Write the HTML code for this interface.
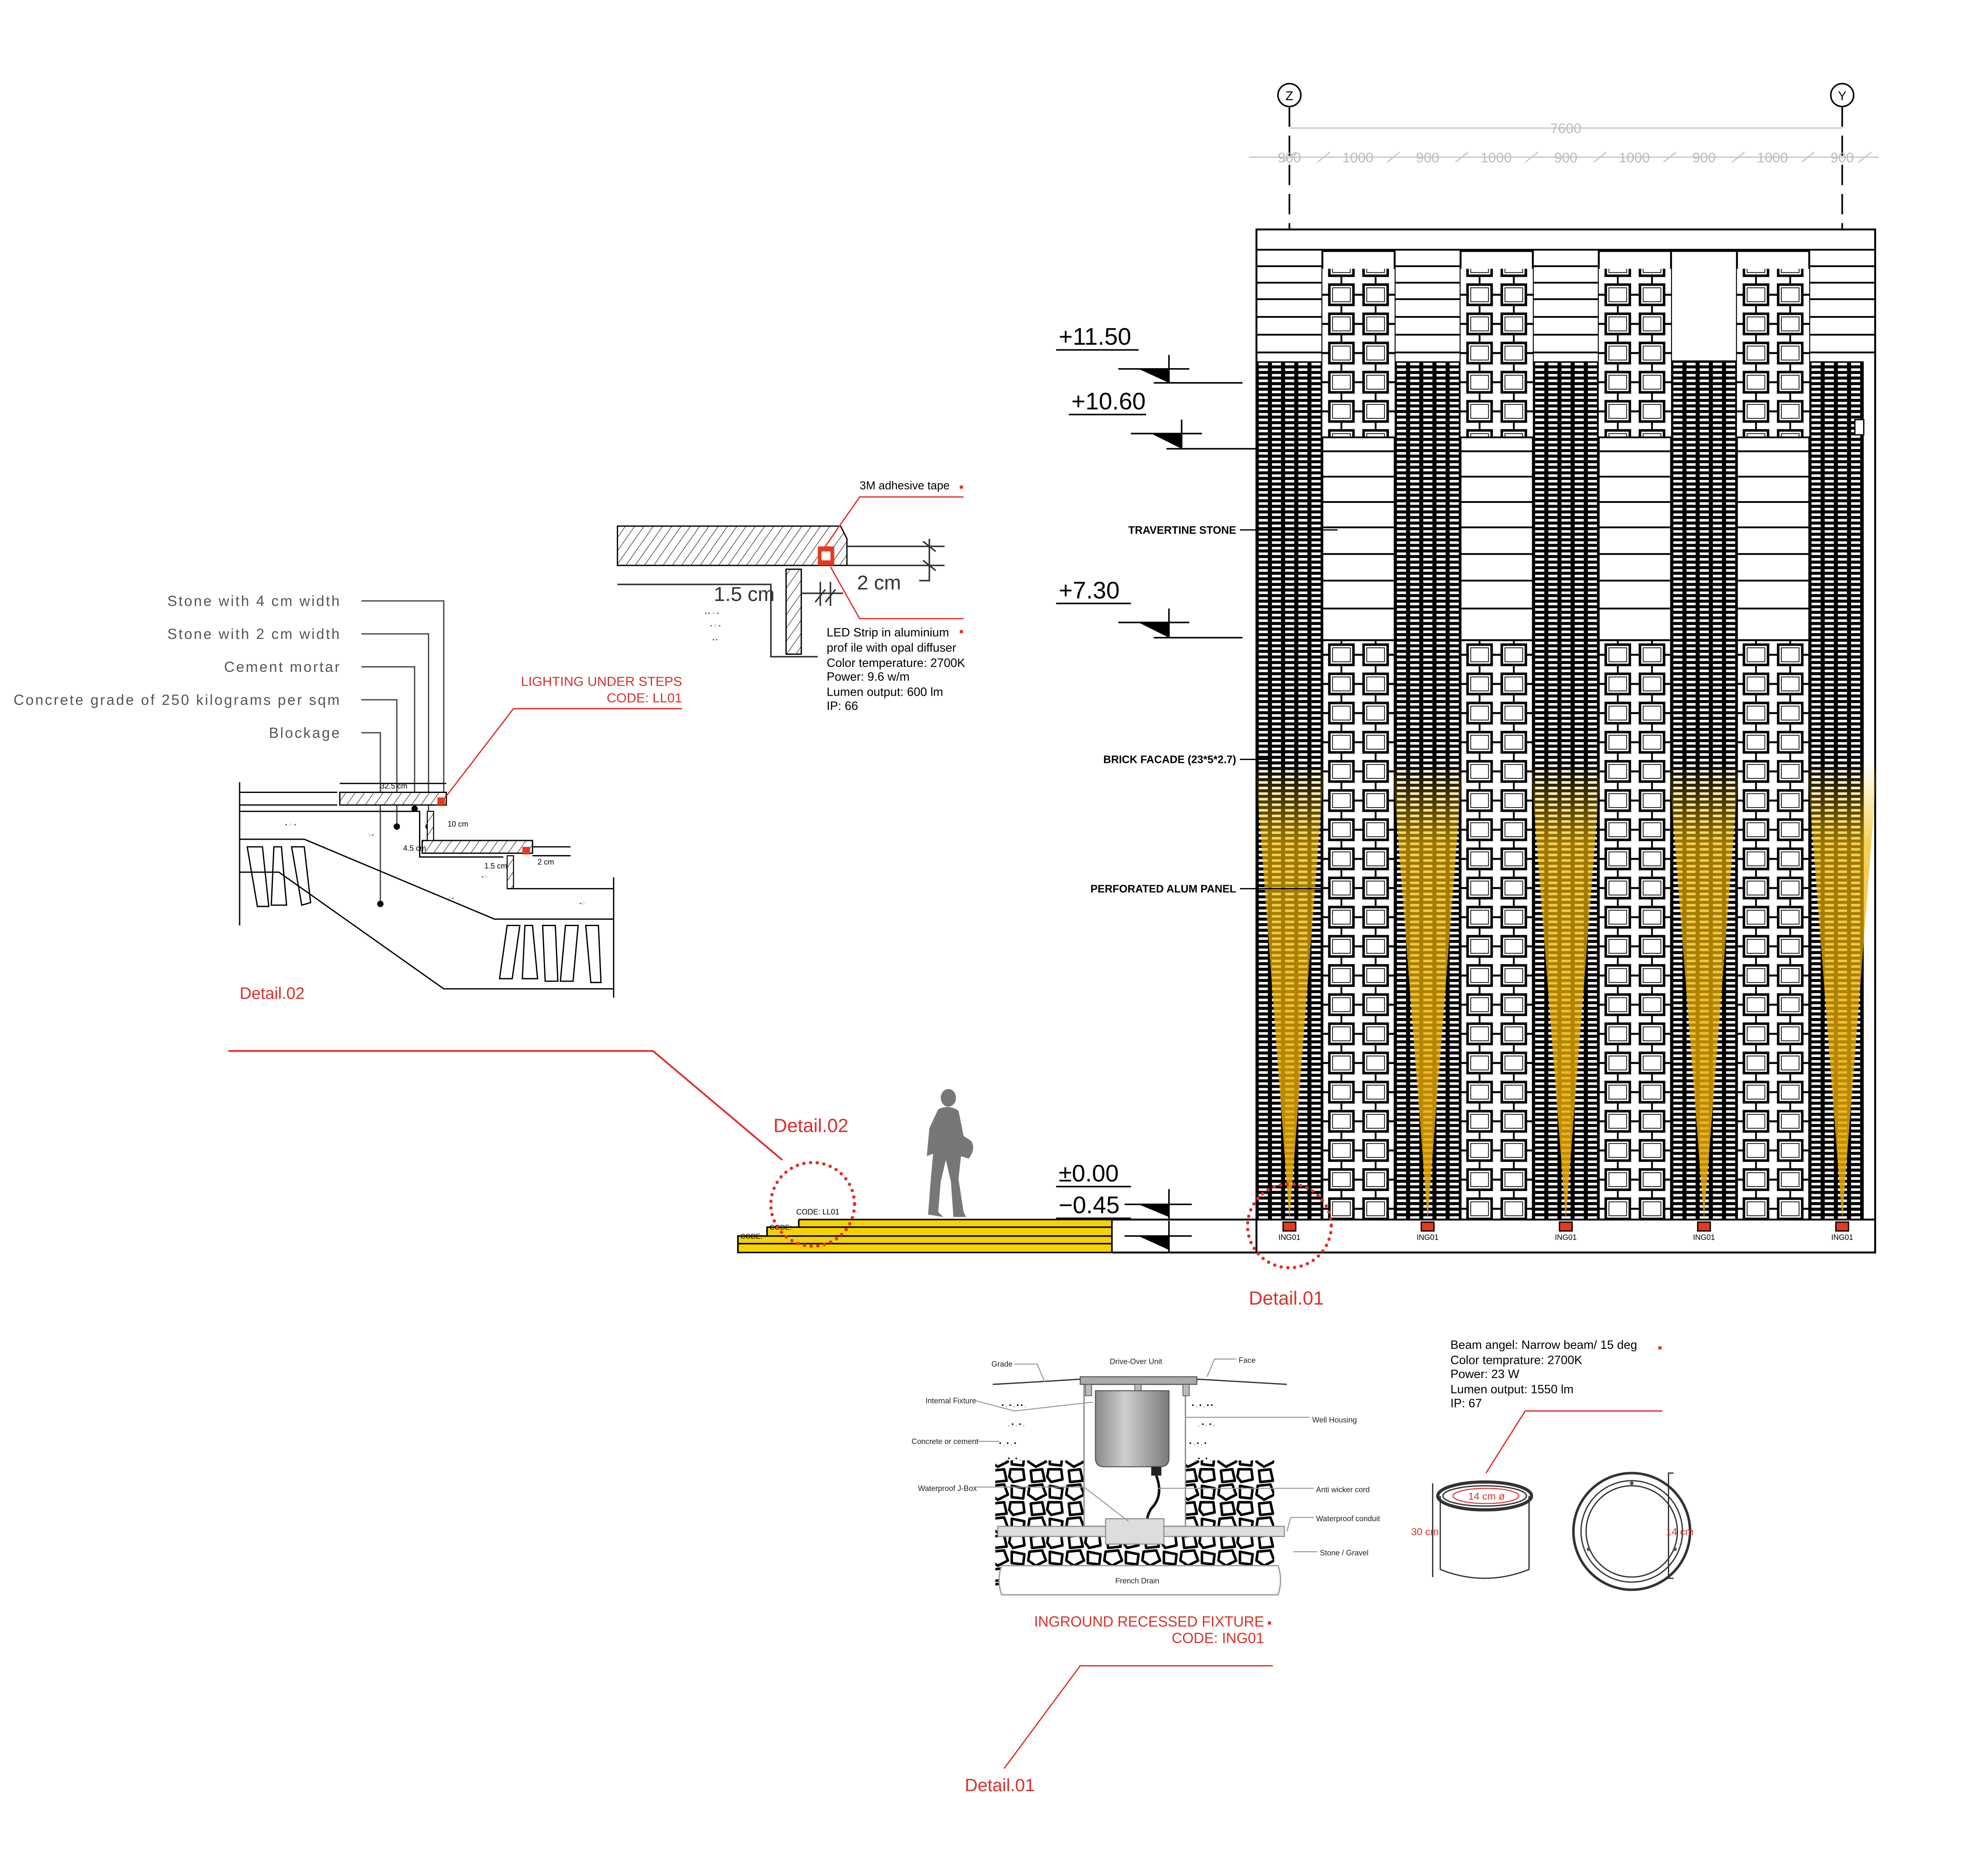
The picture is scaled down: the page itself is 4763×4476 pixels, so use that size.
<!DOCTYPE html>
<html><head><meta charset="utf-8"><style>
html,body{margin:0;padding:0;background:#fff;}
svg{display:block;}
text{font-family:"Liberation Sans",sans-serif;}
</style></head><body>
<svg xmlns="http://www.w3.org/2000/svg" width="4763" height="4476" viewBox="0 0 1568 1473.5" preserveAspectRatio="none">
<defs>
<pattern id="dp" width="10.4" height="4.4" patternUnits="userSpaceOnUse">
<rect width="10.4" height="4.4" fill="#000"/><rect x="1.8" y="1.2" width="7.2" height="2" fill="#fff"/>
</pattern>
<pattern id="pp" width="57" height="23" patternUnits="userSpaceOnUse">
<rect width="57" height="23" fill="#fff"/>
<line x1="0" y1="11.5" x2="57" y2="11.5" stroke="#000" stroke-width="1.6"/>
<line x1="15" y1="0" x2="15" y2="23" stroke="#000" stroke-width="1.4"/>
<line x1="42" y1="0" x2="42" y2="23" stroke="#000" stroke-width="1.4"/>
<rect x="5.5" y="3.5" width="19" height="16" fill="#fff" stroke="#000" stroke-width="2"/>
<rect x="8" y="6" width="14" height="11" fill="none" stroke="#000" stroke-width="0.6"/>
<rect x="32.5" y="3.5" width="19" height="16" fill="#fff" stroke="#000" stroke-width="2"/>
<rect x="35" y="6" width="14" height="11" fill="none" stroke="#000" stroke-width="0.6"/>
</pattern>
<pattern id="hatch" width="6" height="6" patternUnits="userSpaceOnUse" patternTransform="rotate(35)">
<rect width="6" height="6" fill="#fff"/><line x1="0" y1="0" x2="0" y2="6" stroke="#000" stroke-width="0.7"/>
</pattern>
<pattern id="stones" width="30" height="26" patternUnits="userSpaceOnUse">
<rect width="30" height="26" fill="#fff"/>
<g fill="#fff" stroke="#000" stroke-width="2" stroke-linejoin="round">
<path d="M2,2 L12,1 L15,9 L7,13 L1,9 Z"/>
<path d="M18,2 L28,4 L27,12 L18,11 Z"/>
<path d="M3,16 L12,15 L14,24 L4,25 Z"/>
<path d="M17,15 L27,15 L28,23 L19,25 L16,21 Z"/>
</g>
</pattern>
<linearGradient id="beam" gradientUnits="userSpaceOnUse" x1="0" y1="600" x2="0" y2="962">
<stop offset="0" stop-color="#f4c200" stop-opacity="0"/>
<stop offset="0.18" stop-color="#f0b800" stop-opacity="0.65"/>
<stop offset="1" stop-color="#e0a000" stop-opacity="0.9"/>
</linearGradient>
<linearGradient id="cyl" x1="0" y1="0" x2="1" y2="0">
<stop offset="0" stop-color="#8a8a8a"/><stop offset="0.4" stop-color="#cfcfcf"/><stop offset="1" stop-color="#7a7a7a"/>
</linearGradient>
</defs>

<g stroke="#000" stroke-width="1.2" fill="#fff">
<circle cx="1017" cy="75" r="9"/><circle cx="1453" cy="75" r="9"/>
</g>
<text x="1017" y="79" font-size="10" text-anchor="middle">Z</text>
<text x="1453" y="79" font-size="10" text-anchor="middle">Y</text>
<g stroke="#000" stroke-width="1.3" stroke-dasharray="16,7">
<line x1="1017" y1="84" x2="1017" y2="290"/><line x1="1453" y1="84" x2="1453" y2="290"/>
</g>
<g stroke="#c8c8c8" stroke-width="1" fill="none">
<line x1="1017" y1="101" x2="1453" y2="101"/>
<line x1="985" y1="124" x2="1482" y2="124"/>
<line x1="1012" y1="128" x2="1022" y2="120"/><line x1="1039" y1="128" x2="1049" y2="120"/>
<line x1="1094" y1="128" x2="1104" y2="120"/><line x1="1148" y1="128" x2="1158" y2="120"/>
<line x1="1203" y1="128" x2="1213" y2="120"/><line x1="1257" y1="128" x2="1267" y2="120"/>
<line x1="1312" y1="128" x2="1322" y2="120"/><line x1="1366" y1="128" x2="1376" y2="120"/>
<line x1="1421" y1="128" x2="1431" y2="120"/><line x1="1466" y1="128" x2="1476" y2="120"/>
</g>
<g font-size="11" fill="#bbb" text-anchor="middle">
<text x="1235" y="105">7600</text>
<text x="1017" y="128">900</text><text x="1071" y="128">1000</text><text x="1126" y="128">900</text>
<text x="1180" y="128">1000</text><text x="1235" y="128">900</text><text x="1289" y="128">1000</text>
<text x="1344" y="128">900</text><text x="1398" y="128">1000</text><text x="1453" y="128">900</text>
</g>

<rect x="991" y="181" width="488" height="807" fill="#fff" stroke="#000" stroke-width="1.5"/>
<g stroke="#000" stroke-width="1.4">
<line x1="991" y1="197" x2="1479" y2="197"/>
<line x1="991" y1="210" x2="1479" y2="210"/><line x1="991" y1="223" x2="1479" y2="223"/>
<line x1="991" y1="236" x2="1479" y2="236"/><line x1="991" y1="250" x2="1479" y2="250"/>
<line x1="991" y1="264" x2="1479" y2="264"/><line x1="991" y1="278" x2="1479" y2="278"/>
</g>
<g transform="translate(991,285)"><rect width="52" height="677" fill="url(#dp)"/></g>
<g transform="translate(1100,285)"><rect width="52" height="677" fill="url(#dp)"/></g>
<g transform="translate(1209,285)"><rect width="52" height="677" fill="url(#dp)"/></g>
<g transform="translate(1318,285)"><rect width="52" height="677" fill="url(#dp)"/></g>
<g transform="translate(1427,285)"><rect width="43" height="677" fill="url(#dp)"/></g>
<rect x="1318" y="198" width="52" height="87" fill="#fff" stroke="#000" stroke-width="1.4"/>
<rect x="1463" y="331" width="7" height="12" fill="#fff" stroke="#000" stroke-width="1"/>
<g>
<g transform="translate(1043,198)"><rect width="57" height="147" fill="#fff" stroke="#000" stroke-width="1.5"/><rect y="14" width="57" height="133" fill="url(#pp)"/></g>
<g transform="translate(1152,198)"><rect width="57" height="147" fill="#fff" stroke="#000" stroke-width="1.5"/><rect y="14" width="57" height="133" fill="url(#pp)"/></g>
<g transform="translate(1261,198)"><rect width="57" height="147" fill="#fff" stroke="#000" stroke-width="1.5"/><rect y="14" width="57" height="133" fill="url(#pp)"/></g>
<g transform="translate(1370,198)"><rect width="57" height="147" fill="#fff" stroke="#000" stroke-width="1.5"/><rect y="14" width="57" height="133" fill="url(#pp)"/></g>
</g>
<g fill="#fff" stroke="#000" stroke-width="1.4">
<rect x="1043" y="345" width="57" height="160"/><rect x="1152" y="345" width="57" height="160"/>
<rect x="1261" y="345" width="57" height="160"/><rect x="1370" y="345" width="57" height="160"/>
</g>
<g stroke="#000" stroke-width="1.4">
<path d="M1043 356H1100M1043 376H1100M1043 396H1100M1043 416H1100M1043 437H1100M1043 458H1100M1043 480H1100"/>
<path d="M1152 356H1209M1152 376H1209M1152 396H1209M1152 416H1209M1152 437H1209M1152 458H1209M1152 480H1209"/>
<path d="M1261 356H1318M1261 376H1318M1261 396H1318M1261 416H1318M1261 437H1318M1261 458H1318M1261 480H1318"/>
<path d="M1370 356H1427M1370 376H1427M1370 396H1427M1370 416H1427M1370 437H1427M1370 458H1427M1370 480H1427"/>
</g>
<g transform="translate(1043,505)"><rect width="57" height="457" fill="url(#pp)" stroke="#000" stroke-width="1.5"/></g>
<g transform="translate(1152,505)"><rect width="57" height="457" fill="url(#pp)" stroke="#000" stroke-width="1.5"/></g>
<g transform="translate(1261,505)"><rect width="57" height="457" fill="url(#pp)" stroke="#000" stroke-width="1.5"/></g>
<g transform="translate(1370,505)"><rect width="57" height="457" fill="url(#pp)" stroke="#000" stroke-width="1.5"/></g>
<g fill="url(#beam)">
<polygon points="990,600 1045,600 1017,962"/>
<polygon points="1098,600 1154,600 1126,962"/>
<polygon points="1207,600 1263,600 1235,962"/>
<polygon points="1316,600 1372,600 1344,962"/>
<polygon points="1425,600 1481,600 1453,962"/>
</g>
<line x1="877" y1="962" x2="1479" y2="962" stroke="#000" stroke-width="1.5"/>
<line x1="877" y1="988" x2="1479" y2="988" stroke="#000" stroke-width="1.5"/>
<g fill="#e53a1e" stroke="#000" stroke-width="1">
<rect x="1012" y="964" width="10" height="7"/><rect x="1121" y="964" width="10" height="7"/>
<rect x="1230" y="964" width="10" height="7"/><rect x="1339" y="964" width="10" height="7"/>
<rect x="1448" y="964" width="10" height="7"/>
</g>
<g font-size="6" text-anchor="middle">
<text x="1017" y="978">ING01</text><text x="1126" y="978">ING01</text><text x="1235" y="978">ING01</text>
<text x="1344" y="978">ING01</text><text x="1453" y="978">ING01</text>
</g>

<g font-size="8.5" font-weight="bold" text-anchor="end">
<text x="975" y="421">TRAVERTINE  STONE</text>
<text x="975" y="602">BRICK FACADE (23*5*2.7)</text>
<text x="975" y="704">PERFORATED ALUM PANEL</text>
</g>
<g stroke="#000" stroke-width="1">
<line x1="978" y1="418" x2="1055" y2="418"/><line x1="978" y1="599" x2="1000" y2="599"/><line x1="978" y1="701" x2="1043" y2="701"/>
</g>

<g font-size="19">
<text x="835" y="272">+11.50</text><text x="845" y="323">+10.60</text><text x="835" y="472">+7.30</text>
<text x="835" y="932">±0.00</text><text x="835" y="957">−0.45</text>
</g>
<g stroke="#000" stroke-width="1.2" fill="none">
<path d="M833 276H898M882 291H938M922 280V302M910 302H980"/>
<path d="M843 327H904M892 342H948M932 331V354M920 354H991"/>
<path d="M833 476H892M882 491H938M922 480V503M910 503H980"/>
<path d="M833 936H892M887 950H940M922 938V962"/>
<path d="M833 961H892M887 975H940M922 963V988"/>
</g>
<g fill="#000">
<polygon points="898,291 922,291 922,302"/><polygon points="908,342 932,342 932,354"/>
<polygon points="898,491 922,491 922,503"/><polygon points="898,950 922,950 922,960"/>
<polygon points="898,975 922,975 922,986"/>
</g>

<rect x="630" y="962" width="247" height="26" fill="#f6d200"/>
<rect x="605" y="968" width="25" height="20" fill="#f6d200"/>
<rect x="582" y="975" width="23" height="13" fill="#f6d200"/>
<g stroke="#000" stroke-width="1.2" fill="none">
<path d="M630 962H877V988H582V975H605V968H630V962"/>
<path d="M605 975H877M582 981H877M630 968H877"/>
</g>
<text x="584" y="977" font-size="5.5">CODE:</text>
<text x="607" y="970" font-size="5.5">CODE:</text>
<text x="628" y="958" font-size="6">CODE: LL01</text>

<g fill="#777">
<ellipse cx="748" cy="866" rx="6" ry="7"/>
<path d="M740 875 Q748 871 756 876 L760 896 L766 900 Q770 906 764 914 L758 912 L756 930 L760 956 L762 960 L752 960 L750 932 L746 915 L742 932 L740 956 L744 960 L732 958 L734 932 L736 910 L731 912 L733 890 Z"/>
</g>

<g fill="none" stroke="#e0302a" stroke-width="2.6" stroke-linecap="round" stroke-dasharray="0.1 5.2">
<circle cx="641" cy="950" r="33"/><circle cx="1017" cy="967" r="33"/>
</g>
<polyline points="180,829 515,829 617,915" fill="none" stroke="#e0302a" stroke-width="1.4"/>
<text x="610" y="893" font-size="15" fill="#d9302a">Detail.02</text>
<text x="985" y="1029" font-size="15" fill="#d9302a">Detail.01</text>

<g font-size="11.5" fill="#555" text-anchor="end" letter-spacing="1.2">
<text x="269" y="478">Stone with 4 cm width</text>
<text x="269" y="504">Stone with 2 cm width</text>
<text x="269" y="530">Cement mortar</text>
<text x="269" y="556">Concrete grade of 250 kilograms per sqm</text>
<text x="269" y="582">Blockage</text>
</g>
<g stroke="#444" stroke-width="1" fill="none">
<path d="M285 474H350V628M285 500H338V652M285 526H327V638M285 552H313V652M285 578H300V713"/>
</g>
<g fill="#000"><circle cx="350" cy="628" r="2.5"/><circle cx="338" cy="652" r="2.5"/><circle cx="327" cy="638" r="2.5"/><circle cx="313" cy="652" r="2.5"/><circle cx="300" cy="713" r="2.5"/></g>
<rect x="268" y="625" width="84" height="10" fill="url(#hatch)" stroke="#000" stroke-width="1"/>
<rect x="333" y="663" width="87" height="10" fill="url(#hatch)" stroke="#000" stroke-width="1"/>
<rect x="337" y="640" width="5" height="23" fill="url(#hatch)" stroke="#000" stroke-width="0.8"/>
<rect x="400" y="675" width="5" height="26" fill="url(#hatch)" stroke="#000" stroke-width="0.8"/>
<rect x="345" y="629" width="6" height="6" fill="#e53a1e"/>
<rect x="412" y="668" width="6" height="6" fill="#e53a1e"/>
<g stroke="#000" stroke-width="1" fill="none">
<path d="M189 625H266M189 635H266M189 640H331V676H397M400 701H484"/>
<path d="M189 617V730M484 692V787"/>
<path d="M189 662H240L390 725H484"/>
<path d="M189 688H220L350 780H484"/>
<path d="M268 618H352M420 668H450M420 675H450"/>
<path d="M195 668L203 715L212 715L207 668ZM216 668L214 714H226L222 668ZM230 668L238 714L245 712L240 668Z"/>
<path d="M400 730L394 772H404L410 730ZM414 730L412 772H424L420 730ZM428 730L430 774H440L438 730ZM446 730L442 774H452L456 730ZM462 730L466 775H474L472 730Z"/>
</g>
<g font-size="6"><text x="300" y="622">32.5 cm</text><text x="353" y="652">10 cm</text><text x="318" y="671">4.5 cm</text><text x="382" y="685">1.5 cm</text><text x="424" y="682">2 cm</text></g>
<g font-size="4" fill="#333"><text x="225" y="652">• ⁘ •</text><text x="290" y="660">⁘•</text><text x="380" y="693">•⁘</text><text x="353" y="710">⁘•</text><text x="457" y="714">•⁘</text></g>
<text x="189" y="788" font-size="13" fill="#d9302a">Detail.02</text>
<g fill="#d9302a" font-size="10.5" text-anchor="end"><text x="538" y="541">LIGHTING UNDER STEPS</text><text x="538" y="554">CODE: LL01</text></g>
<polyline points="538,559 405,559 352,628" fill="none" stroke="#e0302a" stroke-width="1"/>

<path d="M487 415H663L668 425V446H487Z" fill="url(#hatch)" stroke="#000" stroke-width="1"/>
<rect x="645" y="431" width="13" height="15" fill="#e53a1e"/>
<rect x="648" y="435" width="7" height="7" fill="#fff"/>
<rect x="620" y="449" width="12" height="67" fill="url(#hatch)" stroke="#000" stroke-width="1"/>
<g stroke="#333" stroke-width="1.2" fill="none">
<path d="M668 431H745M668 446H745M733 425V452M728 427L738 435M728 442L738 450M733 446V458H725"/>
<path d="M487 461H608V518H645"/>
<path d="M632 468H665M647 459V478M655 459V478M643 475L651 465M651 475L659 465"/>
</g>
<text x="676" y="465" font-size="16" fill="#333">2 cm</text>
<text x="563" y="474" font-size="16" fill="#333">1.5 cm</text>
<g font-size="4" fill="#333"><text x="556" y="485">•  • ⁘ •</text><text x="560" y="495">• ⁘  •</text><text x="562" y="506">•  •</text></g>
<polyline points="651,431 678,392 760,392" fill="none" stroke="#e0302a" stroke-width="1"/>
<polyline points="655,447 678,488 760,488" fill="none" stroke="#e0302a" stroke-width="1"/>
<text x="678" y="386" font-size="9">3M adhesive tape</text>
<rect x="757" y="383" width="2.5" height="2.5" fill="#e0302a"/>
<g font-size="9.5"><text x="652" y="502">LED Strip in aluminium</text><text x="652" y="514">prof ile with opal diffuser</text><text x="652" y="526">Color temperature: 2700K</text><text x="652" y="537">Power: 9.6 w/m</text><text x="652" y="549">Lumen output: 600 lm</text><text x="652" y="560">IP: 66</text></g>
<rect x="757" y="497" width="2.5" height="2.5" fill="#e0302a"/>

<rect x="785" y="1152" width="220" height="103" fill="url(#stones)"/>
<rect x="855" y="1092" width="80" height="112" fill="#fff" stroke="#888" stroke-width="1"/>
<g font-size="5" fill="#000"><text x="790" y="1110">•  .  •   .  •  •   .</text><text x="795" y="1125">.  •  .   •  .</text><text x="788" y="1140">•   .  •  .  •</text><text x="792" y="1152">.  •  .  •  .</text>
<text x="940" y="1110">•  .  •   .  •  •</text><text x="945" y="1125">.  •  .   •  .</text><text x="938" y="1140">•   .  •  .  •</text><text x="942" y="1152">.  •  .  •  .</text></g>
<path d="M783 1092Q820 1090 850 1088L946 1088Q980 1090 1015 1092" fill="none" stroke="#333" stroke-width="1"/>
<rect x="852" y="1086" width="92" height="6" fill="#aaa" stroke="#555" stroke-width="0.8"/>
<rect x="856" y="1092" width="5" height="9" fill="#bbb" stroke="#555" stroke-width="0.6"/>
<rect x="933" y="1092" width="5" height="9" fill="#bbb" stroke="#555" stroke-width="0.6"/>
<rect x="895" y="1092" width="5" height="9" fill="#bbb" stroke="#555" stroke-width="0.6"/>
<path d="M864 1097H922V1150Q922 1157 915 1157H871Q864 1157 864 1150Z" fill="url(#cyl)" stroke="#555" stroke-width="0.8"/>
<rect x="908" y="1157" width="8" height="7" fill="#222"/>
<path d="M912 1164Q918 1180 908 1190Q903 1198 906 1204" fill="none" stroke="#111" stroke-width="2"/>
<rect x="787" y="1204" width="226" height="8" fill="#ddd" stroke="#888" stroke-width="0.8"/>
<rect x="872" y="1198" width="46" height="20" fill="#ddd" stroke="#888" stroke-width="0.8"/>
<path d="M790 1235H1008Q1012 1246 1008 1258H790Q786 1246 790 1235Z" fill="#fff" stroke="#999" stroke-width="1"/>
<g font-size="6" fill="#222">
<text x="897" y="1249" text-anchor="middle">French Drain</text>
<text x="782" y="1078">Grade</text><text x="896" y="1076" text-anchor="middle">Drive-Over Unit</text><text x="977" y="1075">Face</text>
<text x="730" y="1107">Internal Fixture</text><text x="1035" y="1122">Well  Housing</text>
<text x="719" y="1139">Concrete or cement</text><text x="724" y="1176">Waterproof J-Box</text>
<text x="1038" y="1177">Anti wicker cord</text><text x="1038" y="1200">Waterproof conduit</text><text x="1041" y="1227">Stone / Gravel</text>
</g>
<g stroke="#999" stroke-width="0.8" fill="none">
<path d="M800 1076H818L824 1090M975 1072H958L952 1086M770 1105L800 1113L862 1106M1033 1118H935M771 1137H788M768 1173H855L890 1200M1036 1174H913M1036 1197H1018L1015 1208M1039 1224H1020"/>
</g>
<g fill="#d9302a" font-size="11.5" text-anchor="end"><text x="997" y="1283">INGROUND RECESSED FIXTURE</text><text x="997" y="1296">CODE: ING01</text></g>
<rect x="1000" y="1279" width="2.5" height="2.5" fill="#e0302a"/>
<polyline points="1004,1314 852,1314 792,1395" fill="none" stroke="#e0302a" stroke-width="1"/>
<text x="761" y="1413" font-size="14" fill="#d9302a">Detail.01</text>

<g font-size="9.5"><text x="1144" y="1064">Beam angel: Narrow beam/ 15 deg</text><text x="1144" y="1076">Color temprature:  2700K</text><text x="1144" y="1087">Power: 23 W</text><text x="1144" y="1099">Lumen output: 1550 lm</text><text x="1144" y="1110">IP: 67</text></g>
<rect x="1308" y="1062" width="2.5" height="2.5" fill="#e0302a"/>
<polyline points="1311,1113 1203,1113 1172,1162" fill="none" stroke="#e0302a" stroke-width="1"/>
<g fill="none" stroke="#333" stroke-width="1">
<path d="M1136 1180V1238Q1171 1252 1206 1238V1180"/>
<ellipse cx="1171" cy="1180" rx="37" ry="11" stroke-width="2.5"/>
<ellipse cx="1171" cy="1180" rx="33" ry="8"/>
<circle cx="1287" cy="1208" r="46" stroke-width="2"/>
<circle cx="1287" cy="1208" r="40"/>
<circle cx="1287" cy="1208" r="36"/>
<path d="M1320 1162H1316V1245H1320M1130 1170V1244"/>
</g>
<ellipse cx="1172" cy="1180" rx="26" ry="6" fill="none" stroke="#e0302a" stroke-width="0.8"/>
<g fill="#555"><circle cx="1287" cy="1170" r="1.5"/><circle cx="1253" cy="1222" r="1.5"/><circle cx="1321" cy="1222" r="1.5"/></g>
<g fill="#d9302a" font-size="8"><text x="1158" y="1183">14 cm ø</text><text x="1113" y="1211">30 cm</text><text x="1314" y="1211">14 cm</text></g>
</svg>
</body></html>
